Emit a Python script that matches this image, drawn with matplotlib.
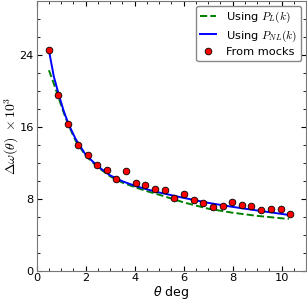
import numpy as np
import matplotlib
matplotlib.use('Agg')
import matplotlib.pyplot as plt
from matplotlib.ticker import MultipleLocator

plt.rcParams['mathtext.fontset'] = 'cm'

# mocks (theta in deg, delta omega x 1e3)
theta_mock = [0.50, 0.89, 1.29, 1.68, 2.08, 2.47, 2.86, 3.26, 3.65, 4.05, 4.44, 4.83, 5.23,
              5.62, 6.02, 6.41, 6.80, 7.20, 7.59, 7.99, 8.38, 8.77, 9.17, 9.56, 9.96, 10.35]
dw_mock = [24.5, 19.5, 16.3, 14.0, 12.9, 11.8, 11.15, 10.15, 11.05, 9.8, 9.5, 9.1, 8.95,
           8.1, 8.55, 7.87, 7.54, 7.05, 7.16, 7.6, 7.35, 7.16, 6.71, 6.87, 6.87, 6.34]

# model curves
theta_th = [0.5, 0.7, 0.9, 1.1, 1.3, 1.6, 2.0, 2.5, 3.0, 3.5, 4.0, 4.5, 5.0, 6.0, 7.0, 8.0, 9.0, 10.3]
dw_nl = [24.5, 21.6, 19.6, 17.8, 16.3, 14.6, 12.9, 11.6, 10.6, 9.95, 9.45, 9.05, 8.7,
         8.1, 7.55, 7.1, 6.7, 6.2]
dw_lin = [22.3, 20.8, 19.2, 17.6, 16.2, 14.4, 12.8, 11.5, 10.5, 9.8, 9.3, 8.85, 8.45,
          7.6, 6.9, 6.45, 6.1, 5.75]

fig = plt.figure(figsize=(3.07, 3.0), dpi=100)
ax = fig.add_axes([0.1195, 0.0977, 0.8772, 0.899])

ax.plot(theta_th, dw_lin, '--', color='g', lw=1.4, label=r'Using $P_L(k)$')
ax.plot(theta_th, dw_nl, '-', color='b', lw=1.4, label=r'Using $P_{NL}(k)$')
ax.plot(theta_mock, dw_mock, 'o', color='r', mec='k', mew=0.6, ms=4.8, label='From mocks')

ax.set_xlim(0, 11)
ax.set_ylim(0, 30)
ax.xaxis.set_major_locator(MultipleLocator(2))
ax.xaxis.set_minor_locator(MultipleLocator(0.5))
ax.yaxis.set_major_locator(MultipleLocator(8))
ax.yaxis.set_minor_locator(MultipleLocator(2))
ax.tick_params(which='both', direction='in', top=True, right=True, labelsize=8.2)
ax.tick_params(axis='x', pad=2)
ax.tick_params(axis='y', pad=2)
ax.tick_params(which='major', length=3.5)
ax.tick_params(which='minor', length=2)
for s in ax.spines.values():
    s.set_color('#777777')

ax.set_xlabel(r'$\theta$ deg', fontsize=9, math_fontfamily='dejavusans')
ax.set_ylabel(r'$\Delta\omega(\theta)\ \times 10^3$', fontsize=10)
ax.xaxis.set_label_coords(0.5, -0.05)
ax.yaxis.set_label_coords(-0.094, 0.5)
ax.xaxis.label.set_va('top')
ax.yaxis.label.set_va('center')

ax.legend(loc='upper right', fontsize=8.2, handlelength=1.4, borderaxespad=0.4,
          labelspacing=0.3, borderpad=0.35, handletextpad=0.9, framealpha=1,
          edgecolor='#888888')

plt.savefig('out.png', dpi=100)
